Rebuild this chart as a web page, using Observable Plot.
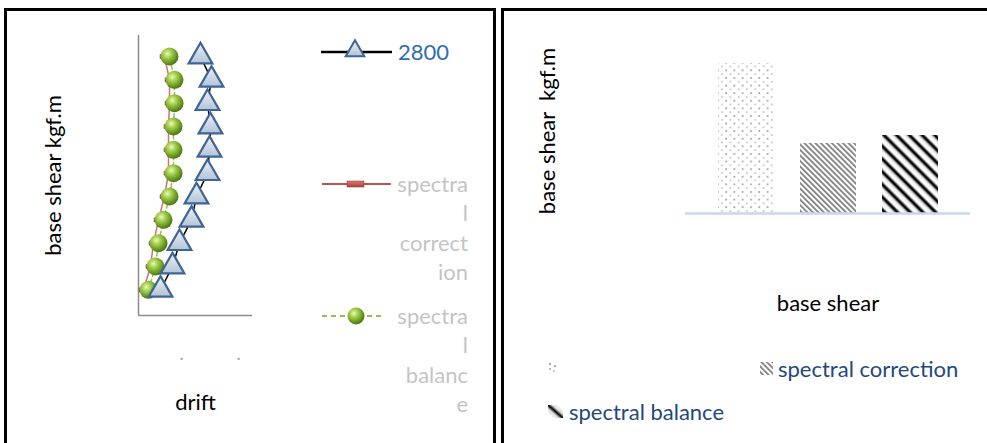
<!DOCTYPE html>
<html><head><meta charset="utf-8">
<script src="https://cdn.jsdelivr.net/npm/d3@7"></script>
<script src="https://cdn.jsdelivr.net/npm/@observablehq/plot@0.6"></script>
<style>
body{margin:0;background:#fff;font-family:Lato,"Open Sans",sans-serif;}
#page{position:relative;width:987px;height:443px;overflow:hidden;background:#fff;}
.panel{position:absolute;border:3px solid #000;border-bottom:none;box-sizing:border-box;}
.abs{position:absolute;white-space:pre;line-height:26px;font-size:22px;}
svg.chart{position:absolute;top:0;overflow:visible;}
</style></head><body>
<div id="page">
<svg width="0" height="0" style="position:absolute">
<defs>
  <radialGradient id="sphere" cx="0.38" cy="0.34" r="0.7">
    <stop offset="0" stop-color="#eaf7bf"/>
    <stop offset="0.35" stop-color="#a2cf4a"/>
    <stop offset="0.8" stop-color="#5e8d1c"/>
    <stop offset="1" stop-color="#4a7012"/>
  </radialGradient>
  <linearGradient id="tri" x1="0" y1="0" x2="0" y2="1">
    <stop offset="0" stop-color="#eef2f8"/>
    <stop offset="1" stop-color="#b3c3d8"/>
  </linearGradient>
  <linearGradient id="redbar" x1="0" y1="0" x2="0" y2="1">
    <stop offset="0" stop-color="#de7a76"/>
    <stop offset="1" stop-color="#a8403c"/>
  </linearGradient>
  <filter id="shadow" x="-50%" y="-50%" width="200%" height="200%">
    <feDropShadow dx="1.5" dy="1.5" stdDeviation="1.2" flood-color="#000" flood-opacity="0.3"/>
  </filter>
  <pattern id="dots" width="8.3" height="7.6" patternUnits="userSpaceOnUse">
    <rect width="8.3" height="7.6" fill="#fff"/>
    <circle cx="2" cy="2" r="1.1" fill="#a8a8a8"/>
    <circle cx="6.2" cy="5.8" r="1" fill="#c4c4c4"/>
  </pattern>
  <pattern id="fine" width="3.9" height="3.9" patternUnits="userSpaceOnUse" patternTransform="rotate(-45)">
    <rect width="3.9" height="3.9" fill="#fff"/>
    <rect width="1.7" height="3.9" fill="#7a7a7a"/>
  </pattern>
  <linearGradient id="stripeG" x1="0" y1="0" x2="1" y2="0">
    <stop offset="0" stop-color="#fff"/>
    <stop offset="0.25" stop-color="#e8e8e8"/>
    <stop offset="0.5" stop-color="#000"/>
    <stop offset="0.62" stop-color="#111"/>
    <stop offset="0.85" stop-color="#fff"/>
    <stop offset="1" stop-color="#fff"/>
  </linearGradient>
  <pattern id="bold" width="9" height="9" patternUnits="userSpaceOnUse" patternTransform="rotate(-45)">
    <rect width="9" height="9" fill="url(#stripeG)"/>
  </pattern>
  <linearGradient id="iconG" x1="0" y1="0" x2="1" y2="0" gradientTransform="rotate(-45 0.5 0.5)">
    <stop offset="0" stop-color="#fff"/>
    <stop offset="0.3" stop-color="#ddd"/>
    <stop offset="0.5" stop-color="#000"/>
    <stop offset="0.7" stop-color="#ddd"/>
    <stop offset="1" stop-color="#fff"/>
  </linearGradient>
</defs>
</svg>
<div class="panel" style="left:4px;top:8px;width:492px;height:450px;"></div>
<div class="panel" style="left:501px;top:8px;width:500px;height:450px;border-right:none;"></div>
</div>
<script>
// ---------- data ----------
const stories = [1, 2, 3, 4, 5, 6, 7, 8, 9, 10, 11];
const drift2800 = [0.22, 0.34, 0.41, 0.53, 0.58, 0.69, 0.71, 0.72, 0.69, 0.73, 0.62];
const driftCorrection = [0.05, 0.12, 0.15, 0.20, 0.26, 0.30, 0.30, 0.30, 0.31, 0.31, 0.26];
const driftBalance = [0.10, 0.17, 0.20, 0.25, 0.31, 0.35, 0.35, 0.35, 0.36, 0.36, 0.31];
const driftTicks = [0.43, 1.0];
const driftTickLabels = ["·", "·"];
const seriesNames = ["2800", "spectral correction", "spectral balance"];
const baseShear = [150, 70, 78];
const correctionLines = ["spectra", "l", "correct", "ion"];
const balanceLines = ["spectra", "l", "balanc", "e"];

const leftData = stories.map((s, i) => ({story: s, d2800: drift2800[i], dCorr: driftCorrection[i], dBal: driftBalance[i]}));
const rightData = seriesNames.map((n, i) => ({name: n, value: baseShear[i]}));
const patternFills = ["url(#dots)", "url(#fine)", "url(#bold)"];

const yMin = -0.1, yMax = 11.9;
const rectSymbol = {draw(ctx) { ctx.rect(-4.5, -2, 9, 4); }};

const page = document.getElementById("page");
const font = "Lato, 'Open Sans', sans-serif";

// ---------- left chart ----------
const left = Plot.plot({
  width: 497, height: 443,
  marginLeft: 138, marginRight: 245, marginTop: 35, marginBottom: 128,
  style: {fontFamily: font, fontSize: "22px", color: "#000", background: "transparent", overflow: "visible"},
  x: {domain: [0, 1.14]},
  y: {domain: [yMin, yMax]},
  marks: [
    Plot.axisY({ticks: [], label: "base shear kgf.m", labelAnchor: "center", labelOffset: 93, labelArrow: "none"}),
    Plot.axisX({ticks: driftTicks, tickFormat: (d, i) => driftTickLabels[i], tickSize: 0, tickPadding: 36, fill: "#aaa", fontSize: 16, label: null}),
    Plot.axisX({ticks: [], label: "drift", labelAnchor: "center", labelOffset: 94, labelArrow: "none"}),
    Plot.ruleX([0], {stroke: "#8c8c8c", strokeWidth: 1.5}),
    Plot.ruleY([yMin], {stroke: "#8c8c8c", strokeWidth: 1.5}),
    Plot.line(leftData, {x: "dCorr", y: "story", stroke: "#c0504d", strokeWidth: 1.5, strokeOpacity: 0.8}),
    Plot.dot(leftData, {x: "dCorr", y: "story", symbol: rectSymbol, fill: "url(#redbar)", stroke: "#8c2f2c", strokeWidth: 0.5}),
    Plot.line(leftData, {x: "dBal", y: "story", stroke: "#9bbb59", strokeWidth: 1.5, strokeDasharray: "4,3"}),
    Plot.dot(leftData, {x: "dBal", y: "story", r: 9, fill: "url(#sphere)", style: "filter:url(#shadow)"}),
    Plot.line(leftData, {x: "d2800", y: "story", stroke: "#000", strokeWidth: 1.5}),
    Plot.dot(leftData, {x: "d2800", y: "story", symbol: "triangle", r: 8.8, fill: "url(#tri)", stroke: "#3f6592", strokeWidth: 2.2})
  ]
});
left.classList.add("chart");
left.style.left = "0px";
page.appendChild(left);

// ---------- right chart ----------
const right = Plot.plot({
  width: 487, height: 443,
  marginLeft: 185, marginRight: 17, marginTop: 48, marginBottom: 230,
  style: {fontFamily: font, fontSize: "22px", color: "#000", background: "transparent", overflow: "visible"},
  x: {type: "band", domain: seriesNames, range: [205, 451], paddingInner: 0.32, paddingOuter: 0.16},
  y: {domain: [0, 150], range: [213, 63]},
  color: {domain: seriesNames, range: patternFills, legend: false},
  marks: [
    Plot.axisY({ticks: [], label: "base shear\u00a0 kgf.m", labelAnchor: "center", labelOffset: 146, labelArrow: "none"}),
    Plot.axisX({ticks: [], label: "base shear", labelAnchor: "center", labelOffset: 97, labelArrow: "none"}),
    Plot.barY(rightData, {x: "name", y: "value", fill: "name"}),
    Plot.ruleY([0], {stroke: "#c5d8ee", strokeWidth: 2.5})
  ]
});
right.classList.add("chart");
right.style.left = "500px";
page.appendChild(right);

// ---------- legends ----------
function text(str, x, yc, color, align, w) {
  const d = document.createElement("div");
  d.className = "abs";
  d.textContent = str;
  d.style.color = color;
  d.style.top = (yc - 13) + "px";
  if (align === "right") { d.style.left = (x - w) + "px"; d.style.width = w + "px"; d.style.textAlign = "right"; }
  else d.style.left = x + "px";
  page.appendChild(d);
}
function icon(x, y, w, h, draw) {
  const s = d3.create("svg").attr("width", w).attr("height", h)
    .style("position", "absolute").style("left", x + "px").style("top", y + "px").style("overflow", "visible");
  draw(s);
  page.appendChild(s.node());
}
// left legend
icon(320, 40, 75, 24, s => {
  s.append("line").attr("x1", 1).attr("x2", 72).attr("y1", 12).attr("y2", 12).attr("stroke", "#000").attr("stroke-width", 2.5);
  s.append("path").attr("d", d3.symbol(d3.symbolTriangle, 150)()).attr("transform", "translate(35,11)")
    .attr("fill", "url(#tri)").attr("stroke", "#3f6592").attr("stroke-width", 2);
});
text(seriesNames[0], 398, 52, "#2e6db5");
icon(320, 172, 75, 24, s => {
  s.append("line").attr("x1", 2).attr("x2", 71).attr("y1", 12).attr("y2", 12).attr("stroke", "#c0504d").attr("stroke-width", 2);
  s.append("rect").attr("x", 27).attr("y", 9).attr("width", 17).attr("height", 6).attr("fill", "url(#redbar)").attr("stroke", "#8c2f2c").attr("stroke-width", 0.5);
});
correctionLines.forEach((l, i) => text(l, 468, 184 + i * 29.3, "#c4c4c4", "right", 90));
icon(320, 304, 75, 24, s => {
  s.append("line").attr("x1", 2).attr("x2", 63).attr("y1", 12).attr("y2", 12).attr("stroke", "#9bbb59").attr("stroke-width", 2).attr("stroke-dasharray", "5,4");
  s.append("circle").attr("cx", 36).attr("cy", 12).attr("r", 8.5).attr("fill", "url(#sphere)");
});
balanceLines.forEach((l, i) => text(l, 468, 316 + i * 29.3, "#c4c4c4", "right", 90));
// right legend
icon(548, 362, 9, 10, s => {
  s.append("circle").attr("cx", 2).attr("cy", 2).attr("r", 1.1).attr("fill", "#999");
  s.append("circle").attr("cx", 7).attr("cy", 4).attr("r", 1.1).attr("fill", "#999");
  s.append("circle").attr("cx", 2).attr("cy", 7).attr("r", 1.1).attr("fill", "#aaa");
  s.append("circle").attr("cx", 6).attr("cy", 9).attr("r", 1).attr("fill", "#bbb");
});
icon(760, 362, 13, 13, s => s.append("rect").attr("width", 13).attr("height", 13).attr("fill", "url(#fine)"));
text(seriesNames[1], 778, 369, "#1f497d");
icon(548, 405, 15, 13, s => s.append("rect").attr("width", 15).attr("height", 13).attr("fill", "url(#iconG)"));
text(seriesNames[2], 569, 412, "#1f497d");
</script>
</body></html>
